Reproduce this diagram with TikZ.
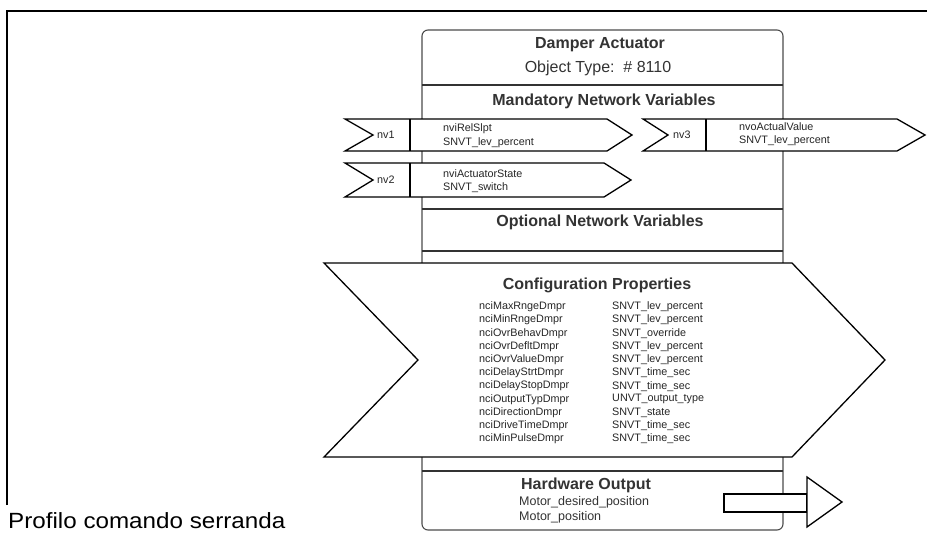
\documentclass[tikz,border=0pt]{standalone}
\usepackage{fontspec}
\setmainfont{Liberation Sans}
\begin{document}
\begin{tikzpicture}[x=1pt,y=-1pt,
  frame/.style={draw=black, line width=2pt},
  outline/.style={draw=black!70, line width=1.1pt},
  divider/.style={draw=black!80, line width=1.1pt},
  nvshape/.style={draw=black, line width=1.3pt, fill=white, line join=miter},
  head/.style={font=\fontsize{16}{18}\selectfont\bfseries, text=black!80, inner sep=0},
  sub/.style={font=\fontsize{16}{18}\selectfont, text=black!80, inner sep=0},
  tiny/.style={font=\fontsize{10.8}{12}\selectfont, text=black!85, anchor=west, inner sep=0},
  hwtext/.style={font=\fontsize{12.5}{14}\selectfont, text=black!80, anchor=west, inner sep=0}]
\useasboundingbox (0,0) rectangle (927,533);

% outer page frame
\draw[frame] (7,505) -- (7,11) -- (927,11);
\node[font=\fontsize{22}{24}\selectfont, anchor=base west, inner sep=0, xscale=1.1] (caption) at (8,528) {Profilo comando serranda};

% object body with its section dividers
\draw[outline, fill=white, rounded corners=6pt] (422,30) rectangle (783,530);
\draw[divider] (422,85) -- (783,85);
\draw[divider] (422,209) -- (783,209);
\draw[divider] (422,251) -- (783,251);
\draw[divider] (422,471) -- (783,471);

\node[head] (title) at (600,45) {Damper Actuator};
\node[sub] (otype) at (598,68) {Object Type:~~\# 8110};
\node[head] (mand) at (604,101) {Mandatory Network Variables};
\node[head] (opt) at (600,222) {Optional Network Variables};

% network variable arrows
\draw[nvshape] (345,119) -- (607,119) -- (632,135) -- (607,151) -- (345,151) -- (373,135) -- cycle;
\draw[nvshape] (410,119) -- (410,151);
\draw[nvshape] (345,163) -- (604,163) -- (631,180) -- (604,197) -- (345,197) -- (373,180) -- cycle;
\draw[nvshape] (410,163) -- (410,197);
\draw[nvshape] (643,119) -- (897,119) -- (925,135) -- (897,151) -- (643,151) -- (668,135) -- cycle;
\draw[nvshape] (706,119) -- (706,151);

\node[tiny] (nv1) at (377,135) {nv1};
\node[tiny] (nv1n) at (443,129) {nviRelSlpt};
\node[tiny] (nv1t) at (443,143) {SNVT\_lev\_percent};
\node[tiny] (nv2) at (377,180) {nv2};
\node[tiny] (nv2n) at (443,174) {nviActuatorState};
\node[tiny] (nv2t) at (443,188) {SNVT\_switch};
\node[tiny] (nv3) at (673,135) {nv3};
\node[tiny] (nv3n) at (739,127) {nvoActualValue};
\node[tiny] (nv3t) at (739,141) {SNVT\_lev\_percent};

% configuration properties arrow
\draw[nvshape] (324,263) -- (792,263) -- (885,360) -- (792,457) -- (324,457) -- (418,360) -- cycle;
\node[head] (conf) at (597,285) {Configuration Properties};
\foreach \pname/\ptype [count=\i] in {
  nciMaxRngeDmpr/SNVT\_lev\_percent,
  nciMinRngeDmpr/SNVT\_lev\_percent,
  nciOvrBehavDmpr/SNVT\_override,
  nciOvrDefltDmpr/SNVT\_lev\_percent,
  nciOvrValueDmpr/SNVT\_lev\_percent,
  nciDelayStrtDmpr/SNVT\_time\_sec,
  nciDelayStopDmpr/SNVT\_time\_sec,
  nciOutputTypDmpr/UNVT\_output\_type,
  nciDirectionDmpr/SNVT\_state,
  nciDriveTimeDmpr/SNVT\_time\_sec,
  nciMinPulseDmpr/SNVT\_time\_sec} {
  \node[tiny] (cpn\i) at (479,{307+13.2*(\i-1)}) {\pname};
  \node[tiny] (cpt\i) at (612,{307+13.2*(\i-1)}) {\ptype};
}

% hardware output section
\node[head] (hw) at (586,485) {Hardware Output};
\node[hwtext] (hw1) at (519,502) {Motor\_desired\_position};
\node[hwtext] (hw2) at (519,517) {Motor\_position};
\draw[nvshape] (724,494) rectangle (807,512);
\draw[nvshape] (807,477) -- (842,502) -- (807,527) -- cycle;
\end{tikzpicture}
\end{document}
